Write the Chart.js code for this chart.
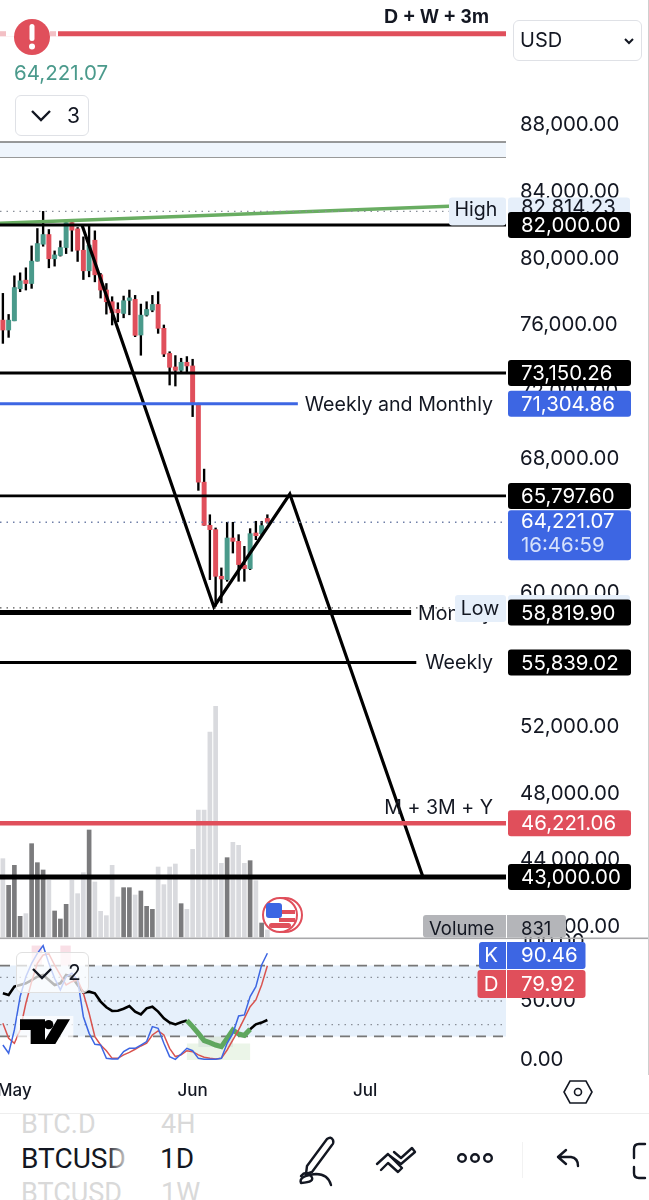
<!DOCTYPE html>
<html>
<head>
<meta charset="utf-8">
<script src="https://cdn.jsdelivr.net/npm/chart.js@4/dist/chart.umd.min.js"></script>
<style>
html,body{margin:0;padding:0;background:#fff;}
body{width:649px;height:1200px;position:relative;overflow:hidden;font-family:Inter,Roboto,sans-serif;color:#131722;}
canvas{position:absolute;left:0;top:0;}
.abs{position:absolute;white-space:nowrap;}
.btn{position:absolute;border:1.5px solid #dfe1e6;border-radius:6px;box-sizing:border-box;}
</style>
</head>
<body>
<canvas id="grafica" width="649" height="1110"></canvas>

<div class="abs" style="left:14px;top:60px;font-size:20.5px;color:#4b9a8c;">64,221.07</div>

<div class="btn" style="left:513px;top:20px;width:129px;height:41px;"></div>
<div class="abs" style="left:520px;top:28px;font-size:20px;">USD</div>
<svg class="abs" style="left:623px;top:36px;" width="12" height="10"><path d="M2 3 L6 7 L10 3" fill="none" stroke="#131722" stroke-width="2"/></svg>

<div class="btn" style="left:15px;top:95px;width:74px;height:41px;background:#fff;"></div>
<svg class="abs" style="left:30px;top:108px;" width="22" height="16"><path d="M2 3 L11 12 L20 3" fill="none" stroke="#131722" stroke-width="2.4"/></svg>
<div class="abs" style="left:67px;top:103px;font-size:21px;">3</div>

<svg class="abs" style="left:0;top:930px;" width="300" height="140" viewBox="0 0 900 420">
  <rect x="52" y="258" width="168" height="92" fill="#fff" opacity=".75"/>
  <path d="M60 268H135V342H92V300H60Z M172 268H210L166 342H128Z" fill="#000"/>
  <circle cx="146" cy="284" r="14" fill="#000"/>
</svg>
<div class="btn" style="left:16px;top:952px;width:73px;height:41px;background:rgba(255,255,255,.72);border-color:#e0e0e0;"></div>
<svg class="abs" style="left:31px;top:966px;" width="22" height="16"><path d="M2 3 L11 12 L20 3" fill="none" stroke="#131722" stroke-width="2.4"/></svg>
<div class="abs" style="left:68px;top:960px;font-size:21px;">2</div>

<div class="abs" style="left:648px;top:0;width:1px;height:1075px;background:#cfcfcf;"></div>
<svg class="abs" style="left:562px;top:1079px;" width="32" height="26"><path d="M8 2H24L30 13L24 24H8L2 13Z" fill="none" stroke="#131722" stroke-width="1.6"/><circle cx="16" cy="13" r="3.5" fill="none" stroke="#131722" stroke-width="1.6"/></svg>

<div class="abs" style="left:0;top:1113px;width:649px;height:87px;background:#fff;border-top:1px solid #eeeeee;overflow:hidden;">
  <div class="abs" style="left:21px;top:-6px;font-size:27px;color:#d9d9d9;font-family:Roboto;">BTC.D</div>
  <div class="abs" style="left:161px;top:-6px;font-size:27px;color:#d9d9d9;font-family:Roboto;">4H</div>
  <div class="abs" style="left:21px;top:28px;font-size:28px;font-family:Roboto;">BTCUSD</div>
  <div class="abs" style="left:106px;top:24px;width:28px;height:42px;background:linear-gradient(to right,rgba(255,255,255,0),#fff 90%);"></div>
  <div class="abs" style="left:160px;top:28px;font-size:28px;font-family:Roboto;">1D</div>
  <div class="abs" style="left:21px;top:63px;font-size:27px;color:#d9d9d9;font-family:Roboto;">BTCUSD</div>
  <div class="abs" style="left:161px;top:63px;font-size:27px;color:#d9d9d9;font-family:Roboto;">1W</div>
  <div class="abs" style="left:522px;top:28px;width:1px;height:36px;background:#f2f2f2;"></div>
  <svg class="abs" style="left:0;top:0;" width="649" height="87" fill="none" stroke="#131722" stroke-width="2.4" stroke-linecap="round" stroke-linejoin="round">
    <path d="M307 52 L327 25 Q331 22 333 26 Q334 29 332 31 L312 58 L306 60 Z"/>
    <path d="M301 62 Q306 56 311 62 Q316 68 301 69 Q298 62 316 60 Q328 60 331 71"/>
    <path d="M377 50 L388 40 L398 50 M381 56 L388 49 L398 58 L402 54 L388 40"/>
    <path d="M394 38 L401 44 L412 34 L415 38 L401 50 L390 42"/>
    <circle cx="462" cy="44" r="3.8"/><circle cx="475" cy="44" r="3.8"/><circle cx="488" cy="44" r="3.8"/>
    <path d="M566 36 L558 43 L566 50 M558 43 H571 Q578 44 578 52"/>
    <path d="M645 30 H639 Q634 30 634 35 V44 M634 53 V59 Q634 64 639 64 H645"/>
  </svg>
</div>

<script>
// categorias diarias, el eje va de finales de abril a finales de julio
const categories = [
  "Apr 29","Apr 30",
  "May 1","May 2","May 3","May 4","May 5","May 6","May 7","May 8","May 9","May 10",
  "May 11","May 12","May 13","May 14","May 15","May 16","May 17","May 18","May 19","May 20",
  "May 21","May 22","May 23","May 24","May 25","May 26","May 27","May 28","May 29","May 30","May 31",
  "Jun 1","Jun 2","Jun 3","Jun 4","Jun 5","Jun 6","Jun 7","Jun 8","Jun 9","Jun 10",
  "Jun 11","Jun 12","Jun 13","Jun 14","Jun 15","Jun 16","Jun 17","Jun 18","Jun 19","Jun 20",
  "Jun 21","Jun 22","Jun 23","Jun 24","Jun 25","Jun 26","Jun 27","Jun 28","Jun 29","Jun 30",
  "Jul 1","Jul 2","Jul 3","Jul 4","Jul 5","Jul 6","Jul 7","Jul 8","Jul 9","Jul 10",
  "Jul 11","Jul 12","Jul 13","Jul 14","Jul 15","Jul 16","Jul 17","Jul 18","Jul 19","Jul 20",
  "Jul 21","Jul 22","Jul 23","Jul 24","Jul 25"
];
const monthTicks = { "May 1":"May", "Jun 1":"Jun", "Jul 1":"Jul" };

const opens = [76310,75720,76270,78190,78700,78500,79840,80850,81430,79980,80180,80650,82150,81770,80490,79260,
  81090,79020,78110,77410,76950,76710,77490,77550,75420,76610,76910,77250,75820,74320,73510,73310,73790,73570,
  71240,66620,64040,63780,60990,60790,63280,63080,61650,61450,63580,63540,64450];
const closes = [75720,76310,78260,78660,78500,79840,80890,81430,79980,80210,80650,82150,81690,80490,79260,80790,
  79020,78110,77410,76750,76750,77470,77590,75400,76610,76950,77250,75820,74280,73490,73310,73790,73570,71380,
  66620,64040,63780,60990,60830,63280,63080,61690,61450,63540,63420,64020,64221.07];
const highs = [77910,76650,78960,79140,79440,80750,81790,82814.23,81730,80450,81050,82280,82280,81850,81290,81990,
  81650,79100,78500,77710,77350,77750,78110,77790,77270,77410,77790,78010,76020,74420,74190,74030,74130,73970,
  71340,67400,64670,63880,61490,64220,64220,63480,62780,63840,64280,64280,64670];
const lows = [74920,75280,76270,78010,78110,78210,79840,80730,79440,79540,80140,80290,80430,79820,78740,78900,
  78600,77630,76670,76020,76210,76450,76630,75320,74210,76550,76810,75520,74130,72430,72370,73230,73230,70540,
  66130,64040,60790,59200,59400,60690,62380,60690,60690,61390,63180,63480,64170];
const volumes = [9243,6097,8457,2439,2753,11013,8771,7906,6687,3068,2124,3855,6687,5113,7591,12626,
  6490,3029,2517,8457,4720,5821,5821,4956,5428,3619,3265,8260,6175,8260,8614,3933,3265,10344,
  14986,14986,24190,27219,8692,9361,11171,10817,8692,9007,6647,1652,831];

const stochK = [12.7,5.7,25.5,53.7,70.6,81.9,90.4,96.9,81.9,69.2,59.4,70.6,73.5,67.8,36.7,22.6,
  13.3,12.7,1.4,0.8,0.8,7.1,9.9,9.9,12.7,15.6,28.3,26.9,14.2,2.9,0.6,5.1,9.9,7.9,
  1.4,0.6,0.6,0.6,1.4,14.2,22.6,37.3,38.2,53.7,62.2,80.5,90.46];
const stochD = [31.1,18.4,14.2,25.5,48.1,66.4,81.9,89,89.9,80.5,72,63.6,66.4,67.8,56.5,39.6,
  19.8,12.7,7.9,1.4,1.4,4.3,6.5,9.1,11.9,14.2,21.2,24.6,21.2,9.9,2.9,4.3,7.9,7.1,
  4.3,2.3,1.4,0.9,1.4,8.5,17,25.5,35.3,45.2,50.9,63.6,79.92];
const rsiLine = [56.5,55.1,62.2,63.6,65,67.8,70.6,72,67.8,63.6,65,72,70.6,63.6,57.1,57.9,
  56.5,49.5,44.7,41.6,41.8,43.5,45.8,41,38.7,43.8,45.2,41,35.3,31.7,30.2,32,33.4,28.3,
  22.6,16.4,14.7,12.7,11.3,18.4,25.5,22.1,20.9,26,30.2,31.7,33.9];

const priceTicks = [88000,84000,80000,76000,72000,68000,64000,60000,56000,52000,48000,44000,40000];
const oscTicks = [100,50,0];
const oscBandLevels = [80,20];
const oscDottedLevels = [70,50,30];

// niveles dibujados: precio, inicio y fin en indice de vela
const levelPrices = [93441,86964,86067,82814.23,82000,73150.26,71304.86,65797.6,64221.07,59100,58819.9,55839.02,46221.06,43000];
const levelEnds   = [87.5,87.5,87.5,77.6,87.5,87.5,51.3,87.5,87.5,87.5,71,71.9,87.5,87.5];
const greenLineX = [-0.5,77.6];
const greenLineY = [82107,83120];
const pathX = [13.76,36.7,49.9,73.06];
const pathY = [82000,59153,65911,43000];

const tagTexts = ["82,000.00","73,150.26","71,304.86","65,797.60","58,819.90","55,839.02","46,221.06","43,000.00"];
const tagPrices = [82000,73150.26,71304.86,65797.6,58819.9,55839.02,46221.06,43000];
const tagKinds = ["black","black","blue","black","black","black","red","black"];

// sombreados del oscilador: velas desde/hasta, valor bajo/alto
const shadeFrom = [32,34,5,10];
const shadeTo = [43,40,6.8,11.8];
const shadeLow = [0,11,78,78];
const shadeHigh = [14,28,97,97];

const GREEN = "#4a9a8b", RED = "#e04f5b", BLUE = "#3d66e3", BLACK = "#000";
const shadeColors = ["#ebf5e8","#dde9e0","#f9dfe6","#f9dfe6"];
const FONT = "Inter, Roboto, sans-serif";

const upColor = closes.map((c,i) => c >= opens[i] ? GREEN : RED);
const volColor = closes.map((c,i) => c >= opens[i] ? "#7b7b7d" : "#d9dade");

function lineSet(xs, ys, color, width, dash, yAxisID){
    return {
        type:"line", xAxisID:"xn", yAxisID:yAxisID || "y",
        data: xs.map((x,i)=>({x:x, y:ys[i]})),
        borderColor:color, borderWidth:width, borderDash:dash || [],
        pointRadius:0, tension:0, order:10
    };
}

const levelStyles = [
    [RED,5],["#777",1.5],["#777",1.5],["#8a8f99",1.2,[1.5,5]],[BLACK,3],[BLACK,3],[BLUE,3],
    [BLACK,2.6],["#6f7fa8",1.4,[1.5,5]],["#555",1.2,[1.5,5]],[BLACK,5],[BLACK,3],[RED,4.5],[BLACK,5]
];
const levelSets = levelPrices.map((p,i)=>lineSet([-0.5,levelEnds[i]],[p,p],levelStyles[i][0],levelStyles[i][1],levelStyles[i][2]));

// banda clara entre los dos niveles de arriba
levelSets[1].fill = {target:{value:levelPrices[2]}};
levelSets[1].backgroundColor = "#eff5fc";

const oscBand = lineSet([-0.5,87.5],[oscBandLevels[0],oscBandLevels[0]],"#777",1.6,[10,7],"yOsc");
oscBand.fill = {target:{value:oscBandLevels[1]}};
oscBand.backgroundColor = "#e6f0fb";
oscBand.order = 30;

const oscSets = [
    oscBand,
    lineSet([-0.5,87.5],[oscBandLevels[1],oscBandLevels[1]],"#777",1.6,[10,7],"yOsc"),
    ...oscDottedLevels.map(v=>lineSet([-0.5,87.5],[v,v],"#8a8f99",1.3,[1.5,5],"yOsc"))
];

function oscSeries(data,color,width){
    return { type:"line", xAxisID:"x", yAxisID:"yOsc", data:data, borderColor:color, borderWidth:width, pointRadius:0, tension:0, order:5 };
}
const rsiSet = oscSeries(rsiLine,BLACK,2.6);
rsiSet.order = 6;
rsiSet.segment = {
    borderColor: c => (c.p0DataIndex >= 32 && c.p0DataIndex < 43) ? "#5fa75e" : undefined,
    borderWidth: c => (c.p0DataIndex >= 32 && c.p0DataIndex < 43) ? 5 : undefined
};

function rr(ctx,x0,y0,x1,y1,r,fill){
    ctx.fillStyle = fill;
    ctx.beginPath();
    ctx.roundRect(x0,y0,x1-x0,y1-y0,r);
    ctx.fill();
}
function txt(ctx,s,x,y,color,font,align){
    ctx.fillStyle = color;
    ctx.font = font;
    ctx.textAlign = align || "left";
    ctx.textBaseline = "middle";
    ctx.fillText(s,x,y);
}

const shades = {
    id:"shades",
    beforeDatasetsDraw(chart){
        const {ctx, scales} = chart;
        ctx.save();
        shadeFrom.forEach((f,i)=>{
            const x0 = scales.xn.getPixelForValue(f), x1 = scales.xn.getPixelForValue(shadeTo[i]);
            const y0 = scales.yOsc.getPixelForValue(shadeHigh[i]), y1 = scales.yOsc.getPixelForValue(shadeLow[i]);
            ctx.fillStyle = shadeColors[i];
            ctx.fillRect(x0,y0,x1-x0,y1-y0);
        });
        ctx.restore();
    }
};

const overlay = {
    id:"overlay",
    afterDraw(chart){
        const {ctx, scales} = chart;
        const y = scales.y, osc = scales.yOsc;
        const tagFont = "20.4px "+FONT, labelFont = "19.6px "+FONT;
        ctx.save();

        // alerta arriba
        const ya = y.getPixelForValue(levelPrices[0]);
        ctx.fillStyle = "#fff";
        ctx.fillRect(0,ya-3,58,6);
        ctx.fillStyle = "#f3c0c5";
        ctx.fillRect(0,ya-2.5,6,5);
        ctx.fillRect(50,ya-2.5,6,5);
        ctx.fillStyle = RED;
        ctx.beginPath(); ctx.ellipse(32,37,18,18,0,0,Math.PI*2); ctx.fill();
        ctx.fillStyle = "#fff";
        ctx.beginPath(); ctx.roundRect(29.5,24,5,17,2.5); ctx.fill();
        ctx.beginPath(); ctx.arc(32,46.5,3,0,Math.PI*2); ctx.fill();
        txt(ctx,"D + W + 3m",489,18,"#131722","bold 19.5px 'Liberation Sans'","right");

        // etiquetas sobre las lineas
        const clear = (x0,x1,yc)=>{ ctx.fillStyle="#fff"; ctx.fillRect(x0,yc-12,x1-x0,24); };
        const y71 = y.getPixelForValue(71304.86);
        clear(299,506,y71);
        txt(ctx,"Weekly and Monthly",493,y71+1,"#131722",labelFont,"right");
        const y55 = y.getPixelForValue(55839.02);
        clear(418,500,y55);
        txt(ctx,"Weekly",493,y55+1,"#131722",labelFont,"right");
        const y58 = y.getPixelForValue(58819.9);
        txt(ctx,"Monthly",418,y58+2,"#131722",labelFont);
        txt(ctx,"M + 3M + Y",493,808,"#131722",labelFont,"right");

        // High y Low
        const yh = y.getPixelForValue(82814.23);
        rr(ctx,449,yh-14,506,yh+14,3,"#e6effa");
        rr(ctx,508,yh-14,630,yh+14,3,"#e6effa");
        txt(ctx,"High",476,yh-1,"#131722",labelFont,"center");
        txt(ctx,"82,814.23",521,yh-4,"#131722",tagFont);
        const yl = y.getPixelForValue(59100);
        rr(ctx,455,yl-13,506,yl+14,3,"#e6effa");
        rr(ctx,508,yl-13,630,yl+14,3,"#e6effa");
        txt(ctx,"Low",480,yl+1,"#131722",labelFont,"center");

        // etiquetas de precio
        const kinds = {black:"#000", blue:BLUE, red:RED};
        tagTexts.forEach((t,i)=>{
            const yc = y.getPixelForValue(tagPrices[i]);
            rr(ctx,508,yc-13,631,yc+13,3,kinds[tagKinds[i]]);
            txt(ctx,t,521,yc+1,"#fff",tagFont);
        });
        const yp = y.getPixelForValue(closes[closes.length-1]);
        rr(ctx,508,yp-12,631,yp+38,3,BLUE);
        txt(ctx,"64,221.07",521,yp,"#fff",tagFont);
        txt(ctx,"16:46:59",521,yp+24,"#d5e0fb",tagFont);

        // moneda del calendario sobre el volumen
        const fx = 276, fy = 916;
        ctx.strokeStyle = RED; ctx.lineWidth = 2;
        ctx.fillStyle = "#fff";
        ctx.beginPath(); ctx.arc(fx+9,fy-1,17,0,Math.PI*2); ctx.fill(); ctx.stroke();
        ctx.beginPath(); ctx.arc(fx+4,fy-1,17,0,Math.PI*2); ctx.fill(); ctx.stroke();
        ctx.fillStyle = RED;
        ctx.fillRect(fx+3,fy-6,16,4);
        ctx.fillRect(fx+3,fy+2,16,4);
        ctx.beginPath(); ctx.roundRect(fx-7,fy+7,22,5,3); ctx.fill();
        ctx.fillStyle = BLUE;
        ctx.beginPath(); ctx.roundRect(fx-10,fy-13,16,15,3); ctx.fill();

        // separador del panel inferior
        ctx.fillStyle = "#a9a9ab";
        ctx.fillRect(0,937.5,649,1.6);

        // etiqueta de volumen
        rr(ctx,423,915,566,937.5,3,"#b4b5b9");
        ctx.fillStyle = "#fff";
        ctx.fillRect(506,915,1,23);
        txt(ctx,"Volume",429,929,"#131722","18.5px "+FONT);
        txt(ctx,"831",521,929,"#131722","18.5px "+FONT);

        // valores K y D
        rr(ctx,479,942,585.5,969,3,BLUE);
        rr(ctx,477.5,970,585.5,998,3,RED);
        ctx.fillStyle = "#fff";
        ctx.fillRect(506,942,1,56);
        txt(ctx,"K",491,956,"#fff",tagFont,"center");
        txt(ctx,"90.46",521,956,"#fff",tagFont);
        txt(ctx,"D",491,985,"#fff",tagFont,"center");
        txt(ctx,"79.92",521,985,"#fff",tagFont);

        ctx.restore();
    }
};

new Chart(document.getElementById("grafica"),{
    type:"bar",
    data:{
        labels:categories,
        datasets:[
            { data:volumes, yAxisID:"yVol", backgroundColor:volColor, barThickness:4, order:50 },
            { data:highs.map((h,i)=>[lows[i],h]), backgroundColor:BLACK, barThickness:1.7, order:40 },
            { data:opens.map((o,i)=>[o,closes[i]]), backgroundColor:upColor, barThickness:4.3, minBarLength:2.5, order:35 },
            ...levelSets,
            lineSet(greenLineX,greenLineY,"#69ad62",3.4),
            lineSet(pathX,pathY,BLACK,3.2),
            ...oscSets,
            oscSeries(stochK,BLUE,1.5),
            oscSeries(stochD,"#d9534f",1.5),
            rsiSet
        ]
    },
    options:{
        responsive:false,
        animation:false,
        events:[],
        layout:{padding:0},
        datasets:{bar:{grouped:false}},
        plugins:{legend:{display:false},tooltip:{enabled:false}},
        scales:{
            x:{
                grid:{display:false,drawTicks:false},
                border:{display:false},
                ticks:{
                    autoSkip:false,maxRotation:0,padding:6,color:"#131722",
                    font:{family:FONT,size:17,weight:"500"},
                    callback(v){ return monthTicks[this.getLabelForValue(v)] || null; }
                },
                afterFit(s){ s.height = 35; s.paddingLeft = 0; s.paddingRight = 0; }
            },
            xn:{ type:"linear", display:false, offset:false, min:-0.5, max:87.5 },
            y:{
                position:"right", stack:"panes", stackWeight:938,
                min:39356, max:95457,
                grid:{display:false,drawTicks:false},
                border:{display:false},
                ticks:{
                    autoSkip:false,padding:14,crossAlign:"near",color:"#131722",
                    font:{family:FONT,size:20.4},
                    callback(v){ return v.toLocaleString("en-US",{minimumFractionDigits:2,maximumFractionDigits:2}); }
                },
                afterBuildTicks(s){ s.ticks = priceTicks.map(v=>({value:v})); },
                afterFit(s){ s.width = 143; s.paddingTop = 0; s.paddingBottom = 0; }
            },
            yOsc:{
                position:"right", stack:"panes", stackWeight:137,
                min:-12.7, max:103.4,
                grid:{display:false,drawTicks:false},
                border:{display:false},
                ticks:{
                    autoSkip:false,padding:14,crossAlign:"near",color:"#131722",
                    font:{family:FONT,size:20.4},
                    callback(v){ return v.toFixed(2); }
                },
                afterBuildTicks(s){ s.ticks = oscTicks.map(v=>({value:v})); },
                afterFit(s){ s.width = 143; s.paddingTop = 0; s.paddingBottom = 0; }
            },
            yVol:{ display:false, min:-16284, max:110566 }
        }
    },
    plugins:[shades,overlay]
});
</script>
</body>
</html>
